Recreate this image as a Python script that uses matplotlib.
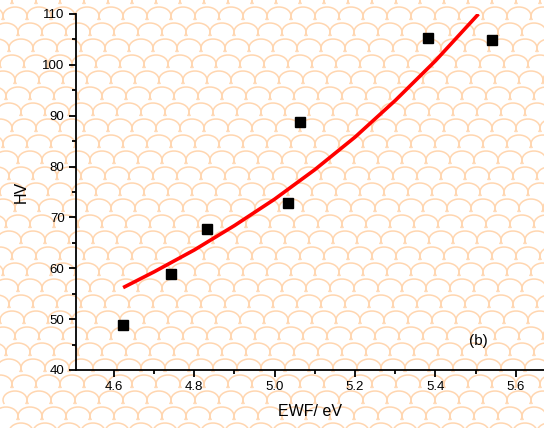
import numpy as np
import matplotlib
matplotlib.use("Agg")
import matplotlib.pyplot as plt
from matplotlib.collections import LineCollection

plt.rcParams['font.family'] = ['Liberation Sans', 'DejaVu Sans']

# Data
ewf = [4.622, 4.742, 4.832, 5.033, 5.063, 5.382, 5.541]
hv = [48.8, 58.9, 67.7, 72.8, 88.8, 105.3, 104.9]

fit_x = [4.623, 4.70, 4.80, 4.90, 5.00, 5.10, 5.20, 5.30, 5.40, 5.507]
fit_y = [56.2, 59.3, 63.6, 68.4, 73.6, 79.4, 85.8, 93.0, 100.8, 110.0]

xticks = [4.6, 4.8, 5.0, 5.2, 5.4, 5.6]
yticks = [40, 50, 60, 70, 80, 90, 100, 110]

W, H = 544, 428
fig = plt.figure(figsize=(W / 100, H / 100), dpi=100)

# background scale pattern
bg = fig.add_axes([0, 0, 1, 1], zorder=0)
bg.set_xlim(0, W)
bg.set_ylim(H, 0)
bg.axis('off')
segs = []
w, h = 24.0, 16.0
r = w / 2
th = np.linspace(-0.15 * np.pi, 1.15 * np.pi, 20)
for j in range(-2, int(H / h) + 3):
    off = (j % 2) * w / 2 + j * 3.0
    for i in range(-3, int(W / w) + 4):
        cx = i * w + off
        cy = j * h
        xs = cx + r * np.cos(th)
        ys = cy - 0.75 * r * np.sin(th)
        segs.append(np.column_stack([xs, ys]))
bg.add_collection(LineCollection(segs, colors='#FFD6B0', linewidths=1.1))

left = 75.7 / W
bottom = (H - 370) / H
ax = fig.add_axes([left, bottom, 1 - left, (370 - 14) / H], zorder=1)
ax.patch.set_alpha(0)

ax.plot(fit_x, fit_y, color='#FF0000', lw=2.6, zorder=2, solid_capstyle='butt',
        solid_joinstyle='round')
ax.plot(ewf, hv, 's', color='black', ms=7.5, zorder=3)

ax.set_xlim(4.505, 5.670)
ax.set_ylim(40, 110)
ax.set_xticks(xticks)
ax.set_xticklabels([f"{v:.1f}" for v in xticks])
ax.set_yticks(yticks)
ax.set_xticks(np.arange(4.7, 5.65, 0.2), minor=True)
ax.set_yticks(np.arange(45, 110, 10), minor=True)

for s in ['top', 'right']:
    ax.spines[s].set_visible(False)
for s in ['left', 'bottom']:
    ax.spines[s].set_linewidth(1.3)
ax.tick_params(which='major', direction='out', length=5, width=1.3, labelsize=9.5, pad=3)
ax.tick_params(which='minor', direction='out', length=3, width=1.3)

ax.set_xlabel('EWF/ eV', fontsize=11.5, labelpad=8)
ax.set_ylabel('HV', fontsize=11.5, labelpad=10)
bg.text(478, 341, '(b)', fontsize=11, ha='center', va='center')

fig.savefig('out.png', dpi=100)
